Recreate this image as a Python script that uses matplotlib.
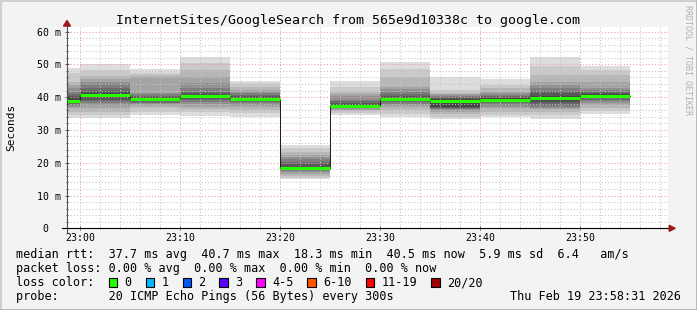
import numpy as np
import matplotlib
matplotlib.use("Agg")
import matplotlib.pyplot as plt
from matplotlib.patches import Rectangle, Polygon
from matplotlib.lines import Line2D

W, H = 697, 310
MONO = "DejaVu Sans Mono"

# step start times in minutes after 23:00, each step is 300 s
starts = [-5, 0, 5, 10, 15, 20, 25, 30, 35, 40, 45, 50]
medians = [38.9, 40.7, 39.4, 40.3, 39.4, 18.3, 37.3, 39.4, 38.9, 39.2, 39.8, 40.5]

# 20 sorted ping rtts (ms) per step
pings = [
    [33.6, 34.6, 35.6, 36.6, 37.1, 37.6, 38.0, 38.3, 38.6, 38.8, 39.0, 39.6, 40.2, 41.0, 41.7, 42.7, 43.7, 44.7, 47.3, 48.8],
    [33.5, 34.6, 35.6, 36.6, 37.5, 38.3, 38.7, 39.2, 39.8, 40.5, 40.9, 41.2, 42.0, 42.7, 43.9, 44.7, 45.5, 46.5, 48.3, 50.0],
    [34.5, 35.6, 36.6, 37.3, 37.8, 38.1, 38.3, 38.7, 39.0, 39.3, 39.6, 39.9, 40.1, 40.5, 40.9, 41.3, 46.2, 46.7, 47.4, 48.6],
    [34.3, 35.4, 36.4, 37.0, 37.9, 38.5, 39.0, 39.4, 39.8, 40.2, 40.4, 40.7, 41.2, 41.7, 42.7, 44.2, 46.2, 48.3, 50.3, 52.2],
    [33.8, 35.1, 36.1, 37.1, 37.6, 38.1, 38.5, 38.8, 39.1, 39.3, 39.5, 39.8, 40.2, 40.7, 41.2, 41.7, 42.2, 43.2, 44.2, 44.9],
    [14.9, 15.4, 16.0, 16.6, 17.1, 17.5, 17.8, 18.0, 18.2, 18.3, 18.4, 18.8, 19.6, 20.3, 21.0, 21.7, 22.4, 23.4, 24.4, 25.5],
    [34.5, 35.2, 35.8, 36.2, 36.5, 36.8, 37.0, 37.1, 37.2, 37.3, 37.4, 37.9, 38.2, 38.7, 39.2, 40.2, 41.0, 41.7, 43.2, 44.9],
    [34.0, 35.0, 36.0, 37.0, 37.6, 38.0, 38.4, 38.8, 39.0, 39.3, 39.5, 39.8, 40.4, 41.0, 41.7, 42.5, 43.2, 46.2, 48.5, 50.7],
    [33.2, 34.0, 34.8, 35.5, 36.0, 36.4, 36.6, 36.8, 37.0, 38.7, 39.1, 39.4, 39.7, 40.0, 40.2, 40.6, 41.0, 41.2, 42.2, 46.2],
    [33.8, 34.6, 35.6, 36.6, 37.1, 37.6, 38.1, 38.5, 38.9, 39.1, 39.3, 39.6, 39.9, 40.3, 40.7, 41.2, 41.7, 42.7, 43.7, 45.6],
    [33.4, 34.6, 35.6, 36.3, 36.8, 37.1, 37.6, 38.1, 38.8, 39.6, 40.0, 40.5, 41.2, 42.0, 42.7, 43.7, 44.7, 46.7, 49.5, 52.2],
    [35.0, 35.8, 36.6, 37.7, 38.2, 38.7, 39.2, 39.7, 40.1, 40.4, 40.6, 40.9, 41.3, 41.7, 42.2, 42.7, 44.7, 46.7, 48.3, 49.6],
]

ytick_vals = [0, 10, 20, 30, 40, 50, 60]
ytick_labels = ["0  ", "10 m", "20 m", "30 m", "40 m", "50 m", "60 m"]
xtick_vals = [0, 10, 20, 30, 40, 50]
xtick_labels = ["23:00", "23:10", "23:20", "23:30", "23:40", "23:50"]

loss_labels = ["0", "1", "2", "3", "4-5", "6-10", "11-19", "20/20"]
loss_colors = ["#26ff00", "#00b8ff", "#0059ff", "#5e00ff", "#ff00ff", "#ff5500", "#ff0000", "#a00000"]

title = "InternetSites/GoogleSearch from 565e9d10338c to google.com"
rtt_line = "median rtt:  37.7 ms avg  40.7 ms max  18.3 ms min  40.5 ms now  5.9 ms sd  6.4   am/s"
loss_line = "packet loss: 0.00 % avg  0.00 % max  0.00 % min  0.00 % now"
probe_line = "probe:       20 ICMP Echo Pings (56 Bytes) every 300s"
date_text = "Thu Feb 19 23:58:31 2026"


def fx(px):
    return px / W


def fy(py):
    return 1 - py / H


fig = plt.figure(figsize=(W / 100, H / 100), dpi=100, facecolor="#f3f3f3")
ax = fig.add_axes([fx(67), fy(228.3), 601 / W, 201 / H])
ax.set_facecolor("white")

P = np.array(pings)
n = P.shape[1]
half = n // 2
# smoke: outer pairs light, inner pairs dark (smokeping style)
for i in range(half):
    g = int(190 / half * (half - (i + 1))) + 50
    col = "#%02x%02x%02x" % (g, g, g)
    lo = P[:, i]
    hi = P[:, n - 1 - i]
    ax.bar(starts, hi - lo, width=5, bottom=lo, align="edge", color=col,
           linewidth=0, zorder=1)

xs = starts + [starts[-1] + 5]
ys = medians + [medians[-1]]
ax.step(xs, ys, where="post", color="#202020", lw=0.75, zorder=4)
ax.hlines(medians, starts, [s + 5 for s in starts], colors=loss_colors[0],
          lw=2.2, zorder=5)

ax.set_xlim(-1.3, 58.8)
ax.set_ylim(0, 61.3)

ax.set_xticks(xtick_vals)
ax.set_xticklabels(xtick_labels, family=MONO, fontsize=7.1)
ax.set_xticks(np.arange(-0, 60, 2), minor=True)
ax.set_yticks(ytick_vals)
ax.set_yticklabels(ytick_labels, family=MONO, fontsize=7.1)
ax.set_yticks(np.arange(0, 62, 2), minor=True)
ax.tick_params(which="major", direction="inout", length=2.2, width=0.6,
               color="#404040", pad=2.2)
ax.tick_params(which="minor", direction="inout", length=1.4, width=0.6,
               color="#404040")
ax.tick_params(axis="y", which="major", pad=3.4)

ax.grid(which="minor", color="#c4c4c4", lw=0.75, linestyle=(0, (1, 2)))
ax.grid(which="major", color="#f39a9a", lw=0.75, linestyle=(0, (1, 2)))
ax.set_axisbelow(False)
for sp in ax.spines.values():
    sp.set_visible(False)

# axes lines with arrows
ax.add_line(Line2D([0, 0], [-4 / 201, 1.01], transform=ax.transAxes,
                   color="#505050", lw=0.8, clip_on=False, zorder=6))
ax.add_line(Line2D([-5 / 601, 1.003], [0, 0], transform=ax.transAxes,
                   color="black", lw=0.8, clip_on=False, zorder=6))
ax.add_patch(Polygon([[-3.5 / 601, 1.006], [3.5 / 601, 1.006], [0, 1.034]],
                     closed=True, transform=ax.transAxes, color="#a01818",
                     clip_on=False, zorder=7))
ax.add_patch(Polygon([[1.002, -3 / 201], [1.002, 3 / 201], [1.012, 0]],
                     closed=True, transform=ax.transAxes, color="#a01818",
                     clip_on=False, zorder=7))

fig.text(fx(348), fy(24), title, family=MONO, fontsize=9.5, ha="center",
         va="baseline", color="black")
fig.text(fx(11), fy(127), "Seconds", family=MONO, fontsize=8, rotation=90,
         ha="center", va="center")
fig.text(fx(688), fy(5), "RRDTOOL / TOBI OETIKER", family=MONO, fontsize=6,
         rotation=270, ha="center", va="top", color="#b0b0b0")

# legend block
x0 = 16.4
cw = 7.1
fig.text(fx(x0), fy(258), rtt_line, family=MONO, fontsize=8.5, va="baseline")
fig.text(fx(x0), fy(272), loss_line, family=MONO, fontsize=8.5, va="baseline")
fig.text(fx(x0), fy(286), "loss color:", family=MONO, fontsize=8.5, va="baseline")
col = 13
for lab, c in zip(loss_labels, loss_colors):
    bx = x0 + col * cw
    fig.add_artist(Rectangle((fx(bx), fy(286.5)), 8.5 / W, 8.5 / H,
                             transform=fig.transFigure, facecolor=c,
                             edgecolor="black", lw=0.8))
    fig.text(fx(x0 + (col + 2.2) * cw), fy(286), lab, family=MONO,
             fontsize=8.5, va="baseline")
    col += 2.2 + len(lab) + 2
fig.text(fx(x0), fy(300), probe_line, family=MONO, fontsize=8.5, va="baseline")
fig.text(fx(680.5), fy(300), date_text, family=MONO, fontsize=8.5,
         va="baseline", ha="right")

# frame
fig.add_artist(Line2D([0, 0, 1], [0, 1, 1], transform=fig.transFigure,
                      color="#cfcfcf", lw=2.2))
fig.add_artist(Line2D([0, 1, 1], [0.5 / H, 0.5 / H, 1], transform=fig.transFigure,
                      color="#a8a8a8", lw=1.8))

fig.savefig("out.png", dpi=100, facecolor=fig.get_facecolor())
